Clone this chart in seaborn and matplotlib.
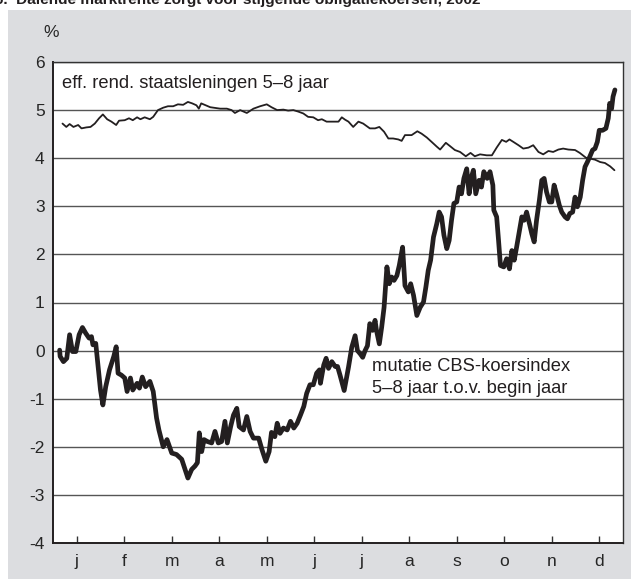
import matplotlib
matplotlib.use("Agg")
import matplotlib.pyplot as plt
from matplotlib.patches import Rectangle
import seaborn as sns
import pandas as pd

# x in months since 1 January 2002
rente_maand = [0.20, 0.28, 0.35, 0.43, 0.53, 0.60, 0.70, 0.79, 0.88, 0.97, 1.05, 1.14, 1.23, 1.33,
               1.39, 1.51, 1.60, 1.68, 1.77, 1.84, 1.93, 2.04, 2.11, 2.21, 2.32, 2.42, 2.53, 2.63,
               2.74, 2.84, 2.93, 3.02, 3.07, 3.12, 3.31, 3.52, 3.66, 3.76, 3.83, 3.94, 4.08, 4.22,
               4.36, 4.50, 4.60, 4.72, 4.85, 4.95, 5.06, 5.16, 5.27, 5.37, 5.48, 5.58, 5.66, 5.76,
               5.90, 6.01, 6.08, 6.15, 6.22, 6.32, 6.43, 6.53, 6.67, 6.78, 6.87, 6.97, 7.06, 7.16,
               7.27, 7.34, 7.41, 7.55, 7.67, 7.76, 7.87, 7.97, 8.08, 8.15, 8.27, 8.36, 8.46, 8.57,
               8.69, 8.79, 8.88, 8.99, 9.13, 9.24, 9.34, 9.45, 9.54, 9.61, 9.69, 9.80, 9.90, 10.01,
               10.11, 10.22, 10.32, 10.43, 10.53, 10.64, 10.74, 10.85, 10.99, 11.09, 11.22, 11.31,
               11.41, 11.52, 11.62, 11.73, 11.82]
rente = [4.72, 4.65, 4.71, 4.65, 4.69, 4.62, 4.64, 4.65, 4.72, 4.83, 4.91, 4.81, 4.76, 4.69,
         4.78, 4.79, 4.83, 4.79, 4.85, 4.81, 4.85, 4.81, 4.86, 5.00, 5.05, 5.08, 5.08, 5.12,
         5.11, 5.17, 5.14, 5.10, 5.03, 5.14, 5.06, 5.03, 5.03, 5.00, 4.94, 5.00, 4.94, 5.03,
         5.08, 5.12, 5.06, 5.00, 5.01, 4.99, 5.00, 4.97, 4.93, 4.86, 4.85, 4.79, 4.81, 4.76,
         4.76, 4.76, 4.85, 4.80, 4.76, 4.65, 4.76, 4.72, 4.62, 4.62, 4.65, 4.55, 4.41, 4.41,
         4.39, 4.36, 4.48, 4.48, 4.56, 4.51, 4.43, 4.34, 4.24, 4.18, 4.32, 4.25, 4.17, 4.13,
         4.04, 4.11, 4.04, 4.08, 4.06, 4.06, 4.22, 4.38, 4.34, 4.39, 4.34, 4.27, 4.20, 4.22,
         4.27, 4.13, 4.08, 4.15, 4.13, 4.18, 4.20, 4.18, 4.17, 4.11, 4.01, 3.99,
         3.97, 3.92, 3.90, 3.83, 3.75]

koers_maand = [0.14, 0.15, 0.22, 0.29, 0.35, 0.41, 0.48, 0.55, 0.62, 0.69, 0.76, 0.81, 0.84, 0.90,
               0.95, 1.00, 1.05, 1.11, 1.19, 1.28, 1.33, 1.37, 1.44, 1.51, 1.56, 1.63, 1.68, 1.77,
               1.82, 1.88, 1.95, 2.04, 2.11, 2.18, 2.23, 2.32, 2.40, 2.50, 2.60, 2.71, 2.78, 2.84,
               2.92, 2.99, 3.04, 3.08, 3.13, 3.18, 3.25, 3.34, 3.41, 3.48, 3.55, 3.62, 3.67, 3.74,
               3.80, 3.87, 3.92, 4.01, 4.08, 4.15, 4.22, 4.33, 4.40, 4.48, 4.55, 4.60, 4.67, 4.72,
               4.78, 4.85, 4.93, 5.00, 5.07, 5.14, 5.21, 5.28, 5.34, 5.41, 5.48, 5.55, 5.61, 5.63,
               5.70, 5.75, 5.80, 5.87, 5.94, 5.99, 6.04, 6.13, 6.22, 6.29, 6.36, 6.41, 6.47, 6.52,
               6.57, 6.62, 6.67, 6.73, 6.78, 6.81, 6.87, 6.92, 6.97, 7.03, 7.08, 7.13, 7.18, 7.24,
               7.29, 7.36, 7.41, 7.48, 7.53, 7.59, 7.66, 7.73, 7.80, 7.85, 7.90, 7.95, 8.01, 8.08,
               8.13, 8.18, 8.23, 8.29, 8.34, 8.39, 8.44, 8.50, 8.55, 8.60, 8.65, 8.71, 8.76, 8.81,
               8.85, 8.90, 8.97, 9.02, 9.07, 9.14, 9.20, 9.26, 9.28, 9.34, 9.38, 9.42, 9.49, 9.55,
               9.61, 9.66, 9.71, 9.76, 9.82, 9.87, 9.92, 9.97, 10.03, 10.08, 10.13, 10.18, 10.24,
               10.29, 10.34, 10.39, 10.45, 10.50, 10.55, 10.60, 10.66, 10.71, 10.78, 10.83, 10.88,
               10.94, 10.99, 11.04, 11.10, 11.15, 11.20, 11.25, 11.30, 11.36, 11.41, 11.46, 11.50,
               11.57, 11.64, 11.69, 11.72, 11.76, 11.79, 11.83]
koers = [0.01, -0.12, -0.23, -0.16, 0.33, -0.02, -0.02, 0.33, 0.48, 0.36, 0.26, 0.29, 0.12, 0.15,
         -0.33, -0.82, -1.13, -0.75, -0.40, -0.12, 0.08, -0.47, -0.51, -0.57, -0.85, -0.57, -0.82, -0.68,
         -0.78, -0.55, -0.75, -0.64, -0.85, -1.40, -1.65, -2.00, -1.85, -2.13, -2.16, -2.26, -2.47, -2.65,
         -2.47, -2.40, -2.33, -1.71, -2.10, -1.85, -1.89, -1.92, -1.68, -1.92, -1.89, -1.47, -1.92, -1.58,
         -1.34, -1.20, -1.58, -1.65, -1.37, -1.68, -1.82, -1.82, -2.06, -2.30, -2.10, -1.70, -1.79, -1.51,
         -1.72, -1.61, -1.65, -1.47, -1.61, -1.51, -1.34, -1.16, -0.89, -0.71, -0.71, -0.47, -0.40, -0.68,
         -0.30, -0.16, -0.37, -0.23, -0.33, -0.33, -0.50, -0.83, -0.35, 0.07, 0.31, 0.00, -0.07, -0.14,
         0.00, 0.10, 0.56, 0.42, 0.63, 0.42, 0.14, 0.49, 0.90, 1.74, 1.39, 1.53, 1.46, 1.56,
         1.77, 2.15, 1.35, 1.22, 1.39, 1.15, 0.73, 0.90, 1.01, 1.32, 1.67, 1.88, 2.36, 2.64,
         2.88, 2.78, 2.40, 2.12, 2.29, 2.71, 3.06, 3.09, 3.40, 3.26, 3.58, 3.78, 3.26, 3.61,
         3.75, 3.26, 3.54, 3.40, 3.72, 3.58, 3.72, 3.44, 2.92, 2.78, 2.29, 1.77, 1.74, 1.91,
         1.70, 2.08, 1.88, 2.15, 2.50, 2.78, 2.71, 2.88, 2.64, 2.43, 2.26, 2.71, 3.13,
         3.54, 3.58, 3.30, 3.09, 3.09, 3.44, 3.26, 3.02, 2.88, 2.78, 2.74, 2.85,
         2.88, 3.19, 2.99, 3.19, 3.54, 3.82, 3.92, 4.03, 4.17, 4.20, 4.34, 4.58,
         4.58, 4.62, 4.83, 5.14, 5.03, 5.28, 5.42]

maanden = ["j", "f", "m", "a", "m", "j", "j", "a", "s", "o", "n", "d"]
y_ticks = [6, 5, 4, 3, 2, 1, 0, -1, -2, -3, -4]

sns.set_style("white")
plt.rcParams['font.family'] = ['Liberation Sans', 'DejaVu Sans']

grijs = '#dcdde0'
zwart = '#231f20'

fig = plt.figure(figsize=(6.31, 5.79), dpi=100)
fig.patch.set_facecolor('white')
# grey panel behind the chart
fig.patches.append(Rectangle((8 / 631, 0), 1 - 8 / 631, 1 - 10 / 579, transform=fig.transFigure,
                             facecolor=grijs, edgecolor='none', zorder=-1))

ax = fig.add_axes([53 / 631, 36 / 579, 570 / 631, 481 / 579])
ax.set_zorder(1)
ax.set_facecolor('white')

df_rente = pd.DataFrame({'maand': rente_maand, 'waarde': rente})
df_koers = pd.DataFrame({'maand': koers_maand, 'waarde': koers})

sns.lineplot(data=df_rente, x='maand', y='waarde', ax=ax, color=zwart, lw=1.3,
             sort=False, estimator=None)
sns.lineplot(data=df_koers, x='maand', y='waarde', ax=ax, color=zwart, lw=3.4,
             sort=False, estimator=None)

ax.set_xlim(0, 12)
ax.set_ylim(-4, 6)
ax.set_yticks(y_ticks)
ax.set_yticklabels([str(v) for v in y_ticks], fontsize=12.5)
ax.set_xticks([i + 0.5 for i in range(12)])
ax.set_xticklabels(maanden, fontsize=12.5)
ax.set_xlabel('')
ax.set_ylabel('')

ax.tick_params(axis='x', direction='in', length=5, width=1, color='#333333', pad=8, bottom=True)
ax.tick_params(axis='y', length=0, pad=6)

ax.yaxis.grid(True, color='#555555', lw=1)
ax.xaxis.grid(False)
ax.set_axisbelow(True)

for side in ['top', 'right']:
    ax.spines[side].set_color('#333333')
    ax.spines[side].set_linewidth(1)
for side in ['left', 'bottom']:
    ax.spines[side].set_color(zwart)
    ax.spines[side].set_linewidth(1.4)

ax.text(-0.004, 1.062, '%', transform=ax.transAxes, ha='center', va='center', fontsize=12.5)

ax.text(0.2, 5.55, 'eff. rend. staatsleningen 5\u20138 jaar', fontsize=13.2, va='center', color=zwart)
ax.text(6.72, -0.34, 'mutatie CBS-koersindex', fontsize=13.2, va='center', color=zwart)
ax.text(6.72, -0.79, '5\u20138 jaar t.o.v. begin jaar', fontsize=13.2, va='center', color=zwart)

fig.text(-0.008, 1 - 4 / 579, '6.  Dalende marktrente zorgt voor stijgende obligatiekoersen, 2002',
         fontsize=11.1, fontweight='bold', va='baseline', ha='left', color=zwart)

fig.savefig('out.png', dpi=100, facecolor=fig.get_facecolor())
